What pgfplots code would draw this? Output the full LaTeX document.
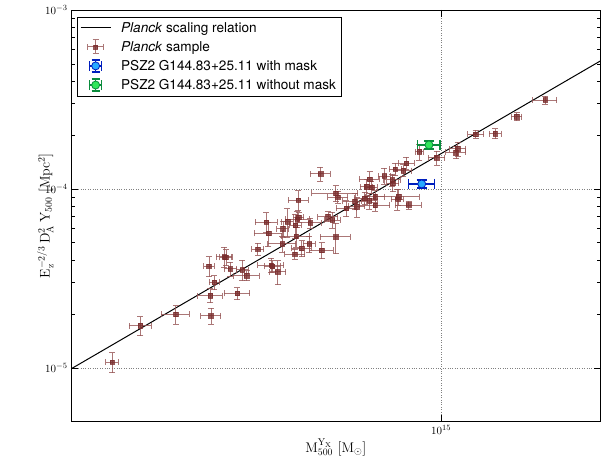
\documentclass[border=0pt]{standalone}
\usepackage{fontspec}
\newfontfamily\legfont{TeX Gyre Heros}
\usepackage{pgfplots}
\usepackage{pgfplotstable}
\pgfplotsset{compat=1.18}
\definecolor{samp}{RGB}{122,45,45}
\definecolor{sampbar}{RGB}{150,85,85}
\definecolor{bedge}{RGB}{0,30,190}
\definecolor{bfill}{RGB}{40,170,255}
\definecolor{gedge}{RGB}{10,140,60}
\definecolor{gfill}{RGB}{50,230,90}

% M [Msun], Y [Mpc^2], relative errors
\pgfplotstableread{
M Y ex ey
2.391e14 1.076e-5 0.028 0.129
2.703e14 1.723e-5 0.048 0.122
3.154e14 1.990e-5 0.061 0.116
3.675e14 1.952e-5 0.043 0.103
3.664e14 2.534e-5 0.054 0.090
4.119e14 2.607e-5 0.056 0.077
3.728e14 3.004e-5 0.022 0.090
3.643e14 3.700e-5 0.022 0.129
3.893e14 4.170e-5 0.035 0.129
3.922e14 4.143e-5 0.026 0.103
3.995e14 3.573e-5 0.026 0.090
4.212e14 3.527e-5 0.026 0.129
4.290e14 3.279e-5 0.056 0.064
4.505e14 4.604e-5 0.026 0.077
4.673e14 6.524e-5 0.048 0.129
4.718e14 5.641e-5 0.061 0.154
4.771e14 3.747e-5 0.056 0.090
4.796e14 3.690e-5 0.035 0.077
4.912e14 3.438e-5 0.035 0.154
5.008e14 4.928e-5 0.061 0.103
5.025e14 6.000e-5 0.026 0.103
5.124e14 6.566e-5 0.026 0.180
5.293e14 4.317e-5 0.043 0.064
5.320e14 5.428e-5 0.061 0.129
5.302e14 6.253e-5 0.026 0.154
5.349e14 6.771e-5 0.052 0.103
5.379e14 6.930e-5 0.022 0.064
5.372e14 8.659e-5 0.043 0.129
5.449e14 4.652e-5 0.043 0.103
5.653e14 6.458e-5 0.052 0.064
5.634e14 4.928e-5 0.026 0.103
5.916e14 1.213e-4 0.043 0.090
5.948e14 4.533e-5 0.052 0.103
6.111e14 6.993e-5 0.043 0.064
6.231e14 6.710e-5 0.035 0.103
6.326e14 9.438e-5 0.100 0.103
6.381e14 8.987e-5 0.043 0.077
6.326e14 5.393e-5 0.065 0.193
6.621e14 7.782e-5 0.043 0.103
6.874e14 8.516e-5 0.052 0.103
6.922e14 7.983e-5 0.035 0.129
7.167e14 8.872e-5 0.043 0.077
7.313e14 8.603e-5 0.035 0.103
7.228e14 1.030e-4 0.026 0.103
7.322e14 1.133e-4 0.043 0.103
7.385e14 1.022e-4 0.026 0.077
7.505e14 9.058e-5 0.043 0.077
7.505e14 8.107e-5 0.065 0.077
7.812e14 1.182e-4 0.026 0.103
8.076e14 1.123e-4 0.035 0.077
8.101e14 1.076e-4 0.026 0.103
8.185e14 1.289e-4 0.026 0.077
8.483e14 1.266e-4 0.035 0.077
8.593e14 1.392e-4 0.035 0.077
8.303e14 9.058e-5 0.095 0.103
8.266e14 8.759e-5 0.026 0.129
8.683e14 8.139e-5 0.056 0.051
9.093e14 1.616e-4 0.017 0.103
9.804e14 1.496e-4 0.035 0.090
1.066e15 1.599e-4 0.043 0.077
1.074e15 1.680e-4 0.035 0.090
1.162e15 2.021e-4 0.035 0.051
1.264e15 2.036e-4 0.026 0.064
1.388e15 2.534e-4 0.022 0.051
1.571e15 3.142e-4 0.052 0.051
}\sample

\begin{document}
\begin{tikzpicture}
\useasboundingbox (-71pt,-48pt) rectangle (530.5pt,422pt);
\begin{axis}[
  scale only axis,
  width=530pt, height=412pt,
  xmode=log, ymode=log,
  xmin=2e14, xmax=2e15,
  ymin=5e-6, ymax=1e-3,
  xtick={1e15}, ytick={1e-5,1e-4,1e-3},
  tick align=inside,
  major tick length=7pt, minor tick length=3.5pt,
  every tick/.style={black, line width=0.6pt},
  axis line style={line width=0.9pt},
  grid=major,
  major grid style={dotted, gray, line width=0.6pt},
  tick label style={font=\fontsize{11}{13}\selectfont},
  label style={font=\fontsize{14}{16}\selectfont},
  xlabel={$\mathrm{M_{500}^{Y_X}}\ [\mathrm{M}_\odot]$},
  ylabel={$\mathrm{E_z^{-2/3}\,D_A^2\,Y_{500}}\ [\mathrm{Mpc^2}]$},
  xlabel style={yshift=2pt},
  ylabel style={yshift=-15pt},
  legend style={at={(0.011,0.983)}, anchor=north west, draw=black, line width=0.6pt,
    font=\legfont\fontsize{13.6}{15}\selectfont, inner xsep=3pt, inner ysep=3pt,
    row sep=3.5pt, /tikz/every odd column/.append style={column sep=8pt}},
  legend cell align=left,
]
\addplot[black, line width=1pt,
  legend image code/.code={\draw[black, line width=1pt] (0pt,0pt) -- (30pt,0pt);}]
  coordinates {(2e14,9.86e-6) (2e15,5.2e-4)};
\addlegendentry{\textit{Planck} scaling relation}

\addplot[only marks, mark=square*, mark size=2.3pt, samp, opacity=0.8,
  legend image code/.code={
    \draw[sampbar, line width=0.8pt] (7pt,0pt) -- (23pt,0pt) (7pt,-3pt) -- (7pt,3pt) (23pt,-3pt) -- (23pt,3pt)
      (15pt,-7pt) -- (15pt,7pt) (12pt,-7pt) -- (18pt,-7pt) (12pt,7pt) -- (18pt,7pt);
    \fill[samp] (13pt,-2pt) rectangle (17pt,2pt);},
  error bars/.cd, x dir=both, y dir=both, x explicit relative, y explicit relative,
  error bar style={sampbar, line width=0.8pt},
  error mark options={rotate=90, sampbar, mark size=3pt, line width=0.8pt}]
  table[x=M, y=Y, x error=ex, y error=ey] {\sample};
\addlegendentry{\textit{Planck} sample}

\addplot[only marks, mark=*, mark size=4pt, mark options={draw=bedge, fill=bfill, line width=0.8pt},
  legend image code/.code={
    \draw[bedge, line width=1.5pt] (9pt,0pt) -- (21pt,0pt) (9pt,-5pt) -- (9pt,5pt) (21pt,-5pt) -- (21pt,5pt)
      (15pt,-6pt) -- (15pt,6pt) (11pt,-6pt) -- (19pt,-6pt) (11pt,6pt) -- (19pt,6pt);
    \filldraw[draw=bedge, fill=bfill, line width=0.8pt] (15pt,0pt) circle (4pt);},
  error bars/.cd, x dir=both, y dir=both, x explicit relative, y explicit relative,
  error bar style={bedge, line width=1.5pt},
  error mark options={rotate=90, bedge, mark size=5pt, line width=1.5pt}]
  table[x=M, y=Y, x error=ex, y error=ey] {
M Y ex ey
9.188e14 1.066e-4 0.056 0.05
};
\addlegendentry{PSZ2 G144.83+25.11 with mask}

\addplot[only marks, mark=*, mark size=4pt, mark options={draw=gedge, fill=gfill, line width=0.8pt},
  legend image code/.code={
    \draw[gedge, line width=1.5pt] (9pt,0pt) -- (21pt,0pt) (9pt,-5pt) -- (9pt,5pt) (21pt,-5pt) -- (21pt,5pt)
      (15pt,-6pt) -- (15pt,6pt) (11pt,-6pt) -- (19pt,-6pt) (11pt,6pt) -- (19pt,6pt);
    \filldraw[draw=gedge, fill=gfill, line width=0.8pt] (15pt,0pt) circle (4pt);},
  error bars/.cd, x dir=both, y dir=both, x explicit relative, y explicit relative,
  error bar style={gedge, line width=1.5pt},
  error mark options={rotate=90, gedge, mark size=5pt, line width=1.5pt}]
  table[x=M, y=Y, x error=ex, y error=ey] {
M Y ex ey
9.482e14 1.762e-4 0.048 0.05
};
\addlegendentry{PSZ2 G144.83+25.11 without mask}
\end{axis}
\end{tikzpicture}
\end{document}
